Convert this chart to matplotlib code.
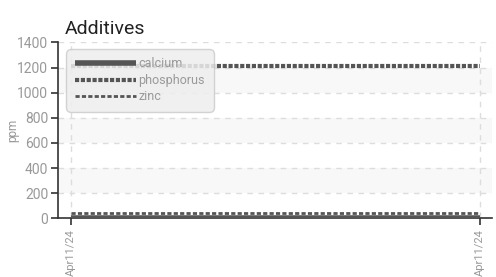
import matplotlib.pyplot as plt
from matplotlib.ticker import MultipleLocator

plt.rcParams['font.family'] = ['Roboto', 'DejaVu Sans']

dates = ['Apr11/24', 'Apr11/24']
calcium = [5, 5]
phosphorus = [1210, 1210]
zinc = [45, 45]

fig = plt.figure(figsize=(4.96, 2.77), dpi=100)
ax = fig.add_axes([0.117, 0.212, 0.875, 0.635])

x = list(range(len(dates)))

# alternating background bands
for lo in (200, 600, 1000):
    ax.axhspan(lo, lo + 200, color='#f8f8f8', zorder=0, lw=0)

ax.plot(x, calcium, color='#555555', lw=4, solid_capstyle='butt', label='calcium', zorder=3)
ax.plot(x, phosphorus, color='#555555', lw=3, ls=(0, (1, 0.4)), label='phosphorus', zorder=3)
ax.plot(x, zinc, color='#555555', lw=2, ls=(0, (1.5, 0.8)), label='zinc', zorder=3)

ax.set_xlim(-0.032, 1.029)
ax.set_ylim(0, 1400)
ax.yaxis.set_major_locator(MultipleLocator(200))
ax.set_xticks(x)
ax.set_xticklabels(dates, rotation=90)

ax.grid(True, ls=(0, (4, 4)), color='#dddddd', lw=1)
ax.set_axisbelow(True)
for s in ('top', 'right'):
    ax.spines[s].set_visible(False)
for s in ('left', 'bottom'):
    ax.spines[s].set_color('#333333')
    ax.spines[s].set_linewidth(1.2)
ax.tick_params(colors='#333333', labelcolor='#999999', labelsize=10, length=5, width=1.2, pad=2)
ax.tick_params(axis='x', labelsize=8, pad=3)

ax.set_ylabel('ppm', color='#999999', fontsize=8.5)
ax.yaxis.set_label_coords(-0.09, 0.5)
ax.set_title('Additives', loc='left', fontsize=14, color='#222222', x=0.016, pad=6)

leg = ax.legend(loc='upper left', bbox_to_anchor=(0.024, 0.95), fontsize=9,
                handlelength=4.9, handletextpad=0.2, labelspacing=0.28,
                borderpad=0.5, fancybox=True, framealpha=0.85,
                facecolor='#eeeeee', edgecolor='#cccccc', borderaxespad=0)
for t in leg.get_texts():
    t.set_color('#999999')
leg.get_frame().set_boxstyle('round,pad=0.2,rounding_size=0.4')
leg.set_zorder(5)

fig.savefig('out.png', dpi=100)
